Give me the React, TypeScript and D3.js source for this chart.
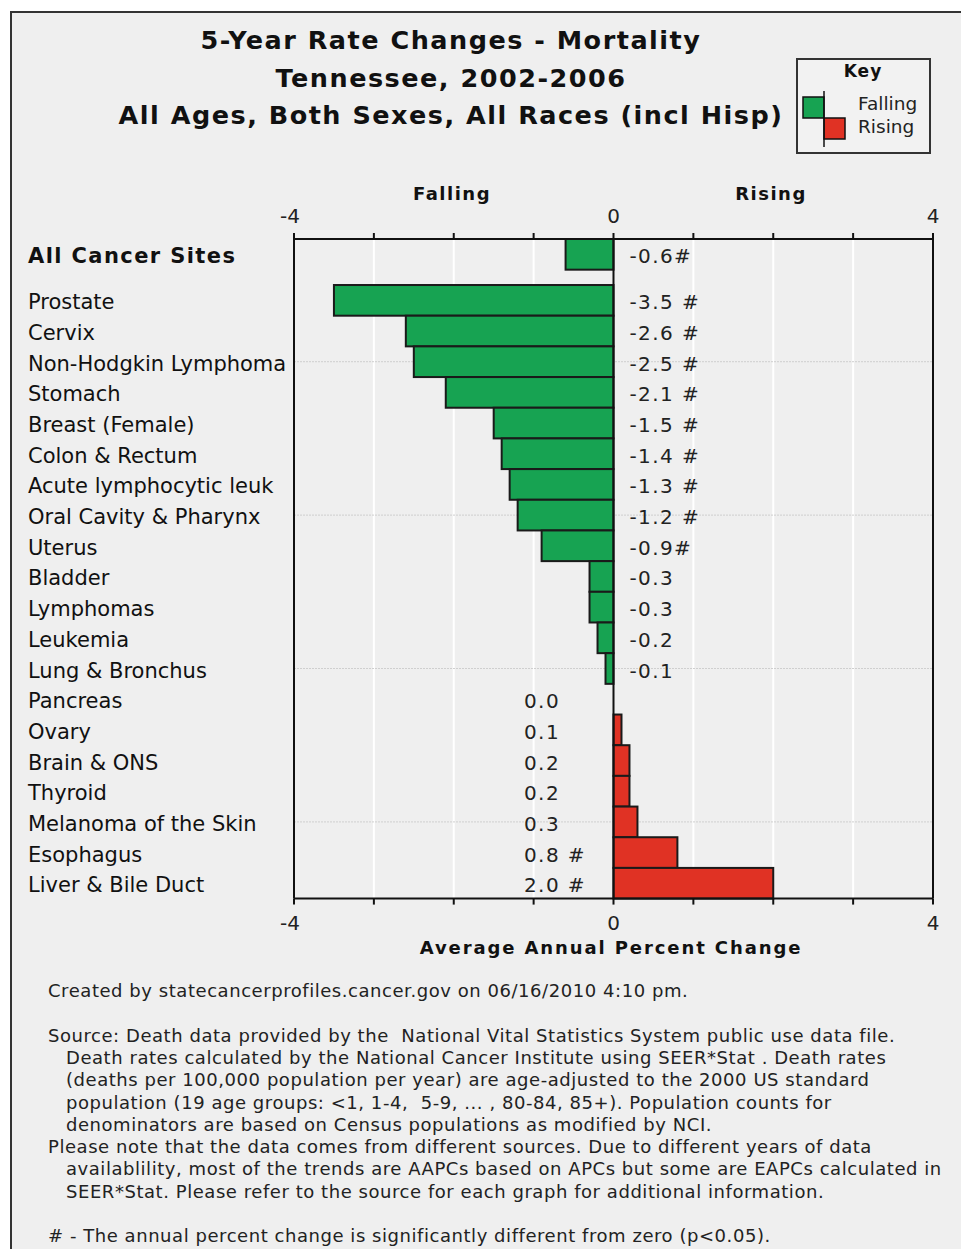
import * as d3 from "d3";

const sites = [
  "All Cancer Sites",
  "Prostate",
  "Cervix",
  "Non-Hodgkin Lymphoma",
  "Stomach",
  "Breast (Female)",
  "Colon & Rectum",
  "Acute lymphocytic leuk",
  "Oral Cavity & Pharynx",
  "Uterus",
  "Bladder",
  "Lymphomas",
  "Leukemia",
  "Lung & Bronchus",
  "Pancreas",
  "Ovary",
  "Brain & ONS",
  "Thyroid",
  "Melanoma of the Skin",
  "Esophagus",
  "Liver & Bile Duct",
];

const aapc = [
  -0.6, -3.5, -2.6, -2.5, -2.1, -1.5, -1.4, -1.3, -1.2, -0.9, -0.3, -0.3, -0.2,
  -0.1, 0.0, 0.1, 0.2, 0.2, 0.3, 0.8, 2.0,
];

// "#" marks significance; spacing as printed on the original
const flags = [
  "#", " #", " #", " #", " #", " #", " #", " #", " #", "#", "", "", "", "",
  "", "", "", "", "", " #", " #",
];

const xTicks = [-4, -3, -2, -1, 0, 1, 2, 3, 4];
const xTickLabels = [-4, 0, 4];

const titleLines = [
  "5-Year Rate Changes - Mortality",
  "Tennessee, 2002-2006",
  "All Ages, Both Sexes, All Races (incl Hisp)",
];

const footer: [number, string][] = [
  [0, "Created by statecancerprofiles.cancer.gov on 06/16/2010 4:10 pm."],
  [0, ""],
  [0, "Source: Death data provided by the  National Vital Statistics System public use data file."],
  [1, "Death rates calculated by the National Cancer Institute using SEER*Stat . Death rates"],
  [1, "(deaths per 100,000 population per year) are age-adjusted to the 2000 US standard"],
  [1, "population (19 age groups: <1, 1-4,  5-9, ... , 80-84, 85+). Population counts for"],
  [1, "denominators are based on Census populations as modified by NCI."],
  [0, "Please note that the data comes from different sources. Due to different years of data"],
  [1, "availablility, most of the trends are AAPCs based on APCs but some are EAPCs calculated in"],
  [1, "SEER*Stat. Please refer to the source for each graph for additional information."],
  [0, ""],
  [0, "# - The annual percent change is significantly different from zero (p<0.05)."],
];

const GREEN = "#17a352";
const RED = "#e03224";
const BG = "#efefef";
const FONT = "Verdana, 'DejaVu Sans', sans-serif";

const PLOT = { left: 294, right: 933, top: 239, bottom: 898.6 };

// row position: "All Cancer Sites" on its own, then half a row gap
const rowPos = sites.map((_, i) => (i === 0 ? 0 : i + 0.5));
const separators = [4, 9, 14, 19];

export default function App() {
  const x = d3.scaleLinear().domain([-4, 4]).range([PLOT.left, PLOT.right]);
  const y = d3.scaleLinear().domain([0, 21.5]).range([PLOT.top, PLOT.bottom]);
  const x0 = x(0);

  return (
    <div style={{ position: "absolute", left: 0, top: 0 }}>
      <svg width={961} height={1249} style={{ display: "block", fontFamily: FONT }}>
        <rect x={0} y={0} width={961} height={1249} fill="#fff" />
        <rect x={11} y={12} width={980} height={1260} fill={BG} stroke="#333" strokeWidth={2} />

        {titleLines.map((t, i) => (
          <text
            key={i}
            x={451}
            y={49 + i * 37.5}
            textAnchor="middle"
            fontWeight="bold"
            fontSize={25.5}
            letterSpacing={1.5}
            fill="#111"
          >
            {t}
          </text>
        ))}

        {/* key */}
        <g>
          <rect x={797} y={59} width={133} height={94} fill="#f2f2f2" stroke="#333" strokeWidth={2} />
          <text x={863} y={77} textAnchor="middle" fontWeight="bold" fontSize={17} letterSpacing={1} fill="#111">
            Key
          </text>
          <rect x={803} y={97} width={21} height={21} fill={GREEN} stroke="#111" strokeWidth={1.5} />
          <rect x={824} y={118} width={21} height={21} fill={RED} stroke="#111" strokeWidth={1.5} />
          <line x1={824} x2={824} y1={91} y2={147} stroke="#111" strokeWidth={1.5} />
          <text x={858} y={110} fontSize={18.5} fill="#222">Falling</text>
          <text x={858} y={133} fontSize={18.5} fill="#222">Rising</text>
        </g>

        {/* direction labels */}
        <text x={452} y={200} textAnchor="middle" fontWeight="bold" fontSize={18} letterSpacing={1.5} fill="#111">
          Falling
        </text>
        <text x={771} y={200} textAnchor="middle" fontWeight="bold" fontSize={18} letterSpacing={1.5} fill="#111">
          Rising
        </text>

        {/* gridlines */}
        {xTicks
          .filter((t) => t !== 0 && Math.abs(t) !== 4)
          .map((t) => (
            <line key={t} x1={x(t)} x2={x(t)} y1={PLOT.top} y2={PLOT.bottom} stroke="#fff" strokeWidth={2} />
          ))}

        {separators.map((s) => (
          <line
            key={s}
            x1={PLOT.left}
            x2={PLOT.right}
            y1={y(s)}
            y2={y(s)}
            stroke="#cfcfcf"
            strokeWidth={1}
            strokeDasharray="2,1"
          />
        ))}

        {/* bars */}
        {aapc.map((v, i) => {
          const top = y(rowPos[i]);
          const h = y(rowPos[i] + 1) - top;
          if (v === 0) return null;
          return (
            <rect
              key={i}
              x={Math.min(x(v), x0)}
              y={top}
              width={Math.abs(x(v) - x0)}
              height={h}
              fill={v < 0 ? GREEN : RED}
              stroke="#1a1a1a"
              strokeWidth={2}
            />
          );
        })}

        {/* value labels */}
        {aapc.map((v, i) => {
          const cy = y(rowPos[i] + 0.5);
          return (
            <text
              key={i}
              x={v < 0 ? x0 + 16 : 524}
              y={cy + 9}
              fontSize={20}
              letterSpacing={1.4}
              fill="#222"
              style={{ whiteSpace: "pre" }}
            >
              {v.toFixed(1) + flags[i]}
            </text>
          );
        })}

        {/* category labels */}
        {sites.map((s, i) => (
          <text
            key={s}
            x={28}
            y={y(rowPos[i] + 0.5) + 9}
            fontSize={21}
            fontWeight={i === 0 ? "bold" : "normal"}
            letterSpacing={i === 0 ? 1.4 : 0}
            fill="#111"
          >
            {s}
          </text>
        ))}

        {/* frame of plot */}
        <line x1={x0} x2={x0} y1={PLOT.top} y2={PLOT.bottom} stroke="#111" strokeWidth={2} />
        <line x1={PLOT.left} x2={PLOT.left} y1={PLOT.top} y2={PLOT.bottom} stroke="#111" strokeWidth={2} />
        <line x1={PLOT.right} x2={PLOT.right} y1={PLOT.top} y2={PLOT.bottom} stroke="#111" strokeWidth={2} />
        <line x1={PLOT.left} x2={PLOT.right} y1={PLOT.top} y2={PLOT.top} stroke="#111" strokeWidth={2} />
        <line x1={PLOT.left} x2={PLOT.right} y1={PLOT.bottom} y2={PLOT.bottom} stroke="#111" strokeWidth={2} />

        {xTicks.map((t) => (
          <g key={t}>
            <line x1={x(t)} x2={x(t)} y1={PLOT.top} y2={PLOT.top - 6} stroke="#111" strokeWidth={2} />
            <line x1={x(t)} x2={x(t)} y1={PLOT.bottom} y2={PLOT.bottom + 6} stroke="#111" strokeWidth={2} />
          </g>
        ))}
        {xTickLabels.map((t) => (
          <g key={t}>
            <text x={x(t) - (t < 0 ? 4 : 0)} y={223} textAnchor="middle" fontSize={20} fill="#222">
              {t}
            </text>
            <text x={x(t) - (t < 0 ? 4 : 0)} y={930} textAnchor="middle" fontSize={20} fill="#222">
              {t}
            </text>
          </g>
        ))}

        <text x={611} y={954} textAnchor="middle" fontWeight="bold" fontSize={18} letterSpacing={1.9} fill="#111">
          Average Annual Percent Change
        </text>

        {footer.map(([indent, line], i) => (
          <text
            key={i}
            x={indent ? 66 : 48}
            y={997 + i * 22.3}
            fontSize={18}
            letterSpacing={0.55}
            fill="#222"
            style={{ whiteSpace: "pre" }}
          >
            {line}
          </text>
        ))}
      </svg>
    </div>
  );
}
